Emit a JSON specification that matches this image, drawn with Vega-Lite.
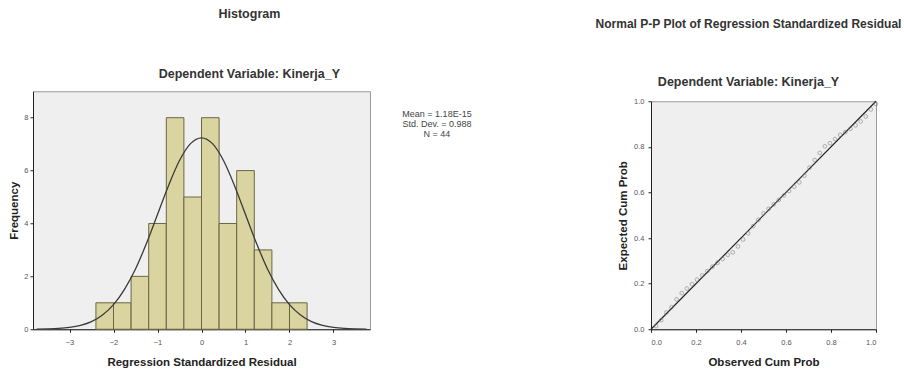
{
  "$schema": "https://vega.github.io/schema/vega-lite/v6.json",
  "padding": {"left": 8, "top": 7, "right": 0, "bottom": 0},
  "background": "white",
  "center": true,
  "config": {
    "font": "Liberation Sans",
    "view": {"fill": "#efefef", "stroke": "#9a9a9a", "strokeWidth": 1},
    "axis": {
      "grid": false, "domainColor": "#222", "tickColor": "#222", "tickSize": 3,
      "labelFont": "Liberation Sans", "labelFontSize": 7.5, "labelColor": "#555",
      "titleFont": "Liberation Sans", "titleFontSize": 11.5, "titleFontWeight": "bold", "titleColor": "#222"
    },
    "title": {"font": "Liberation Sans", "fontSize": 12.5, "fontWeight": "bold", "color": "#333",
      "subtitleFont": "Liberation Sans", "subtitleFontSize": 12.5, "subtitleFontWeight": "bold", "subtitleColor": "#333"}
  },
  "datasets": {
    "bins": [
      {"bin_start": -2.4, "bin_end": -2.0, "count": 1},
      {"bin_start": -2.0, "bin_end": -1.6, "count": 1},
      {"bin_start": -1.6, "bin_end": -1.2, "count": 2},
      {"bin_start": -1.2, "bin_end": -0.8, "count": 4},
      {"bin_start": -0.8, "bin_end": -0.4, "count": 8},
      {"bin_start": -0.4, "bin_end": 0.0, "count": 5},
      {"bin_start": 0.0, "bin_end": 0.4, "count": 8},
      {"bin_start": 0.4, "bin_end": 0.8, "count": 4},
      {"bin_start": 0.8, "bin_end": 1.2, "count": 6},
      {"bin_start": 1.2, "bin_end": 1.6, "count": 3},
      {"bin_start": 1.6, "bin_end": 2.0, "count": 1},
      {"bin_start": 2.0, "bin_end": 2.4, "count": 1}
    ],
    "curve": [
      {"z": -3.75, "f": 0.005}, {"z": -3.5, "f": 0.014}, {"z": -3.25, "f": 0.032}, {"z": -3.0, "f": 0.072},
      {"z": -2.75, "f": 0.15}, {"z": -2.5, "f": 0.29}, {"z": -2.25, "f": 0.54}, {"z": -2.0, "f": 0.93},
      {"z": -1.75, "f": 1.51}, {"z": -1.5, "f": 2.28}, {"z": -1.25, "f": 3.25}, {"z": -1.0, "f": 4.34},
      {"z": -0.75, "f": 5.43}, {"z": -0.5, "f": 6.38}, {"z": -0.25, "f": 7.02}, {"z": 0.0, "f": 7.24},
      {"z": 0.25, "f": 7.02}, {"z": 0.5, "f": 6.38}, {"z": 0.75, "f": 5.43}, {"z": 1.0, "f": 4.34},
      {"z": 1.25, "f": 3.25}, {"z": 1.5, "f": 2.28}, {"z": 1.75, "f": 1.51}, {"z": 2.0, "f": 0.93},
      {"z": 2.25, "f": 0.54}, {"z": 2.5, "f": 0.29}, {"z": 2.75, "f": 0.15}, {"z": 3.0, "f": 0.072},
      {"z": 3.25, "f": 0.032}, {"z": 3.5, "f": 0.014}, {"z": 3.75, "f": 0.005}
    ],
    "stats": [
      {"stat": "Mean = 1.18E-15"},
      {"stat": "Std. Dev. = 0.988"},
      {"stat": "N = 44"}
    ],
    "pp": [
      {"obs": 0.0227, "exp": 0.0139}, {"obs": 0.0455, "exp": 0.0401}, {"obs": 0.0682, "exp": 0.0735},
      {"obs": 0.0909, "exp": 0.0968}, {"obs": 0.1136, "exp": 0.1314}, {"obs": 0.1364, "exp": 0.1587},
      {"obs": 0.1591, "exp": 0.1788}, {"obs": 0.1818, "exp": 0.1977}, {"obs": 0.2045, "exp": 0.2177},
      {"obs": 0.2273, "exp": 0.2358}, {"obs": 0.25, "exp": 0.2546}, {"obs": 0.2727, "exp": 0.2743},
      {"obs": 0.2955, "exp": 0.2912}, {"obs": 0.3182, "exp": 0.3085}, {"obs": 0.3409, "exp": 0.3264},
      {"obs": 0.3636, "exp": 0.3372}, {"obs": 0.3864, "exp": 0.3632}, {"obs": 0.4091, "exp": 0.3936},
      {"obs": 0.4318, "exp": 0.4207}, {"obs": 0.4545, "exp": 0.4522}, {"obs": 0.4773, "exp": 0.4801},
      {"obs": 0.5, "exp": 0.508}, {"obs": 0.5227, "exp": 0.5279}, {"obs": 0.5455, "exp": 0.5478},
      {"obs": 0.5682, "exp": 0.5675}, {"obs": 0.5909, "exp": 0.5871}, {"obs": 0.6136, "exp": 0.6064},
      {"obs": 0.6364, "exp": 0.6255}, {"obs": 0.6591, "exp": 0.6443}, {"obs": 0.6818, "exp": 0.6736},
      {"obs": 0.7045, "exp": 0.7088}, {"obs": 0.7273, "exp": 0.7422}, {"obs": 0.75, "exp": 0.7734},
      {"obs": 0.7727, "exp": 0.8023}, {"obs": 0.7955, "exp": 0.8159}, {"obs": 0.8182, "exp": 0.834},
      {"obs": 0.8409, "exp": 0.8531}, {"obs": 0.8636, "exp": 0.8643}, {"obs": 0.8864, "exp": 0.879},
      {"obs": 0.9091, "exp": 0.8944}, {"obs": 0.9318, "exp": 0.9115}, {"obs": 0.9545, "exp": 0.9332},
      {"obs": 0.9773, "exp": 0.9641}, {"obs": 1.0, "exp": 0.9878}
    ],
    "diag": [{"p": 0}, {"p": 1}]
  },
  "spacing": 103,
  "resolve": {"scale": {"color": "independent"}, "legend": {"color": "independent"}},
  "hconcat": [
    {
      "width": 337,
      "height": 238,
      "view": {"fill": "#efefef", "stroke": "#9a9a9a", "strokeWidth": 1},
      "title": {"text": "Histogram", "subtitle": "Dependent Variable: Kinerja_Y", "anchor": "middle", "frame": "bounds", "subtitlePadding": 47.5, "offset": 11},
      "layer": [
        {
          "data": {"name": "bins"},
          "mark": {"type": "rect", "fill": "#d9d4a0", "stroke": "#6a6642", "strokeWidth": 1},
          "encoding": {
            "x": {"field": "bin_start", "type": "quantitative", "scale": {"domain": [-3.83, 3.83], "nice": false, "zero": false},
              "axis": {"values": [-3, -2, -1, 0, 1, 2, 3], "title": ["Regression Standardized Residual", ""], "titleLineHeight": 10, "labelPadding": 6, "titlePadding": 11}},
            "x2": {"field": "bin_end"},
            "y": {"field": "count", "type": "quantitative", "scale": {"domain": [0, 9], "nice": false},
              "axis": {"values": [0, 2, 4, 6, 8], "title": "Frequency", "labelPadding": 2, "titlePadding": 4}},
            "y2": {"datum": 0}
          }
        },
        {
          "data": {"name": "curve"},
          "mark": {"type": "line", "color": "#3a3a3a", "strokeWidth": 1.3, "interpolate": "monotone", "clip": true},
          "encoding": {
            "x": {"field": "z", "type": "quantitative"},
            "y": {"field": "f", "type": "quantitative"}
          }
        },
        {
          "data": {"name": "stats"},
          "mark": {"type": "point", "opacity": 0},
          "encoding": {
            "color": {"field": "stat", "type": "nominal", "sort": null,
              "legend": {"title": null, "orient": "right", "offset": 40, "padding": 18, "symbolSize": 0, "symbolOpacity": 0, "symbolStrokeWidth": 0,
                "labelFontSize": 9, "labelColor": "#444", "labelFont": "Liberation Sans", "labelAlign": "center", "labelOffset": 0, "rowPadding": -2}}
          }
        }
      ]
    },
    {
      "width": 225,
      "height": 228,
      "view": {"fill": "#efefef", "stroke": "#9a9a9a", "strokeWidth": 1},
      "title": {"text": "Normal P-P Plot of Regression Standardized Residual", "fontSize": 12, "subtitle": "Dependent Variable: Kinerja_Y", "anchor": "middle", "frame": "bounds", "subtitlePadding": 45, "offset": 8},
      "layer": [
        {
          "data": {"name": "diag"},
          "mark": {"type": "line", "color": "#222", "strokeWidth": 1.2},
          "encoding": {
            "x": {"field": "p", "type": "quantitative", "scale": {"domain": [0, 1], "nice": false},
              "axis": {"values": [0, 0.2, 0.4, 0.6, 0.8, 1.0], "format": ".1f", "title": "Observed Cum Prob", "labelPadding": 6, "titlePadding": 11}},
            "y": {"field": "p", "type": "quantitative", "scale": {"domain": [0, 1], "nice": false},
              "axis": {"values": [0, 0.2, 0.4, 0.6, 0.8, 1.0], "format": ".1f", "title": "Expected Cum Prob", "labelPadding": 4, "titlePadding": 5}}
          }
        },
        {
          "data": {"name": "pp"},
          "mark": {"type": "point", "filled": false, "size": 14, "stroke": "#7a7a7a", "strokeWidth": 0.8},
          "encoding": {
            "x": {"field": "obs", "type": "quantitative"},
            "y": {"field": "exp", "type": "quantitative"}
          }
        }
      ]
    }
  ]
}
